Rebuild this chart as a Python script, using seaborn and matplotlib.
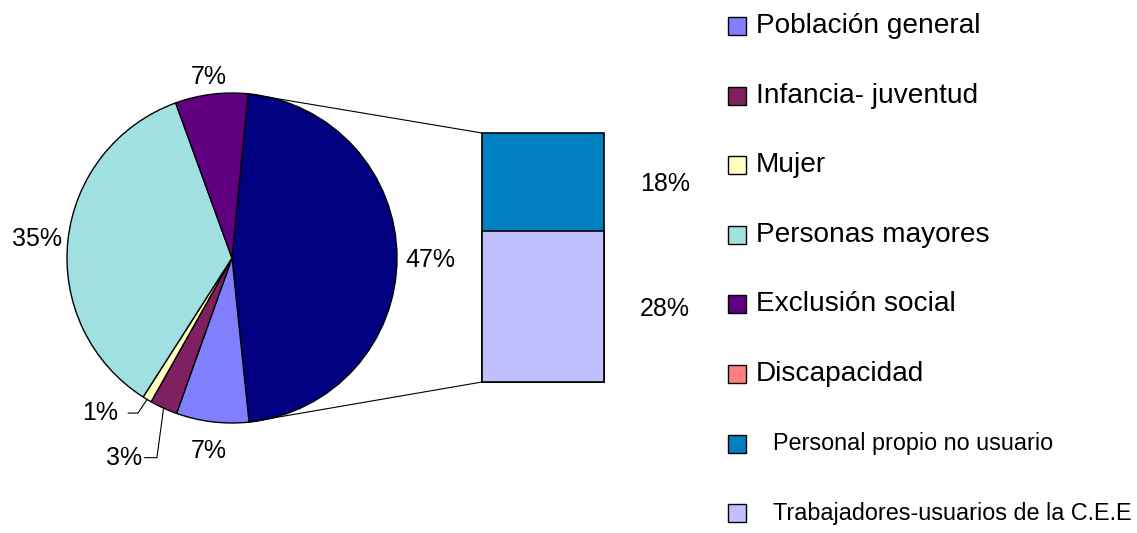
import numpy as np
import pandas as pd
import matplotlib
matplotlib.use("Agg")
import matplotlib.pyplot as plt
from matplotlib.patches import ConnectionPatch, Rectangle
import seaborn as sns

# pie data (clockwise from the "other" wedge)
pie_labels = ['Otros (C.E.E)', 'Población general', 'Infancia- juventud', 'Mujer',
              'Personas mayores', 'Exclusión social']
pie_values = [46.8, 7.1, 2.7, 0.9, 35.4, 7.1]
pie_colors = ['#000080', '#8080FF', '#802060', '#FFFFC0', '#A0E0E0', '#600080']

# bar of pie (split of the "other" wedge)
bar_labels = ['Personal propio no usuario', 'Trabajadores-usuarios de la C.E.E']
bar_values = [18.4, 28.4]
bar_colors = ['#0080C0', '#C0C0FF']

# legend entries
legend_labels = ['Población general', 'Infancia- juventud', 'Mujer', 'Personas mayores',
                 'Exclusión social', 'Discapacidad',
                 'Personal propio no usuario', 'Trabajadores-usuarios de la C.E.E']
legend_colors = ['#8080FF', '#802060', '#FFFFC0', '#A0E0E0', '#600080', '#FF8080',
                 '#0080C0', '#C0C0FF']

sns.set_theme(style="white")
plt.rcParams['font.family'] = ['Liberation Sans', 'DejaVu Sans']
plt.rcParams['text.color'] = 'black'

W, H = 1137, 533
fig = plt.figure(figsize=(W / 100, H / 100), dpi=100)

# pie axes: center (232,258) radius 165 px
ax = fig.add_axes([67 / W, (H - 423) / H, 330 / W, 330 / H])
start = 84.4
wedges, texts, autotexts = ax.pie(pie_values, colors=pie_colors, startangle=start,
                                  counterclock=False, radius=1, autopct='%1.0f%%',
                                  pctdistance=1.19,
                                  wedgeprops=dict(edgecolor='black', linewidth=1),
                                  textprops=dict(fontsize=18, color='black'))
ax.set_xlim(-1, 1)
ax.set_ylim(-1, 1)
ax.set_aspect('equal')
ax.axis('off')
for w in wedges:
    w.set_clip_on(False)

# label distance per wedge (Excel puts them a bit unevenly)
label_dist = [1.2, 1.16, 1.19, 1.19, 1.19, 1.12]
for w, t, d in zip(wedges, autotexts, label_dist):
    mid = np.deg2rad((w.theta1 + w.theta2) / 2)
    t.set_position((d * np.cos(mid), d * np.sin(mid)))
    t.set_va('center_baseline')
    t.set_clip_on(False)

# small wedges get labels with leader lines
small = {3: ((-0.80, -0.94), -0.63, -0.57), 2: ((-0.655, -1.21), -0.53, -0.455)}
for i, (pos, x0, x1) in small.items():
    autotexts[i].set_position(pos)
    autotexts[i].set_va('center')
    w = wedges[i]
    mid = np.deg2rad((w.theta1 + w.theta2) / 2)
    ax.plot([x0, x1, np.cos(mid)], [pos[1], pos[1], np.sin(mid)],
            color='black', lw=0.8, clip_on=False)

# bar axes
bax = fig.add_axes([482 / W, (H - 382) / H, 122 / W, 249 / H])
total = sum(bar_values)
df_total = pd.DataFrame({'x': ['a'], 'y': [total]})
df_bottom = pd.DataFrame({'x': ['a'], 'y': [bar_values[1]]})
sns.barplot(data=df_total, x='x', y='y', color=bar_colors[0], width=1.0,
            saturation=1, edgecolor='black', linewidth=1.2, ax=bax)
sns.barplot(data=df_bottom, x='x', y='y', color=bar_colors[1], width=1.0,
            saturation=1, edgecolor='black', linewidth=1.2, ax=bax)
for p in bax.patches:
    p.set_clip_on(False)
bax.set_xlim(-0.5, 0.5)
bax.set_ylim(0, total)
bax.axis('off')
bottoms = [bar_values[1], 0]
for v, b in zip(bar_values, bottoms):
    bax.text(1.0, b + v / 2, f'{v:.0f}%', ha='center', va='center_baseline',
             fontsize=18, clip_on=False)

# connector lines from the "other" wedge to the bar
w0 = wedges[0]
for ang, yb in [(w0.theta2, total), (w0.theta1, 0)]:
    a = np.deg2rad(ang)
    con = ConnectionPatch(xyA=(np.cos(a), np.sin(a)), coordsA=ax.transData,
                          xyB=(-0.5, yb), coordsB=bax.transData,
                          color='black', lw=0.8)
    fig.add_artist(con)

# legend drawn by hand
row_y = 26
for i, (lab, col) in enumerate(zip(legend_labels, legend_colors)):
    yc = row_y + i * 69.6
    fig.patches.append(Rectangle((728 / W, (H - yc - 9) / H), 18 / W, 18 / H,
                                 transform=fig.transFigure, facecolor=col,
                                 edgecolor='black', linewidth=1))
    if i < 6:
        fig.text(756 / W, (H - yc) / H, lab, fontsize=20.2, va='center', ha='left')
    else:
        fig.text(773 / W, (H - yc) / H, lab, fontsize=16.8, va='center', ha='left')

fig.savefig('out.png', dpi=100)
